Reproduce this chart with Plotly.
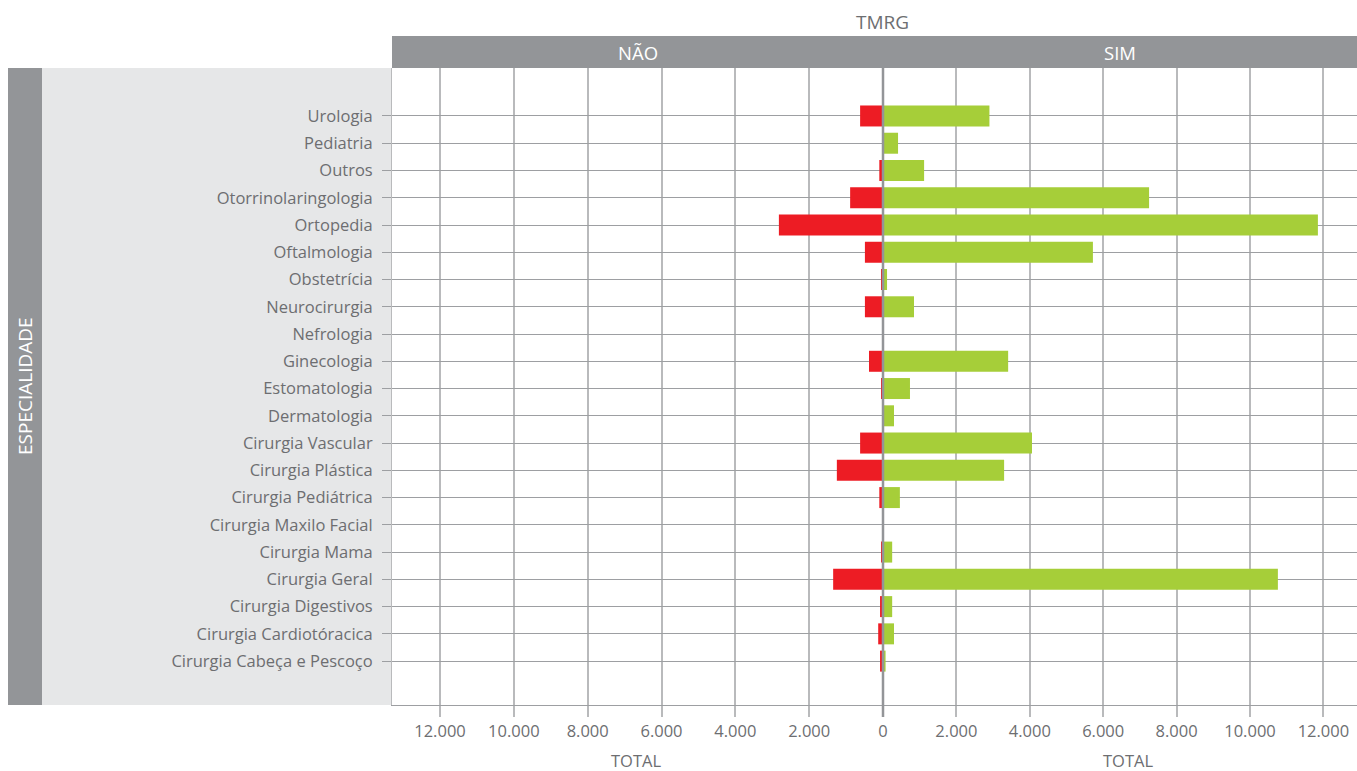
import plotly.graph_objects as go
from plotly.subplots import make_subplots

categories = [
    "Urologia", "Pediatria", "Outros", "Otorrinolaringologia", "Ortopedia",
    "Oftalmologia", "Obstetrícia", "Neurocirurgia", "Nefrologia", "Ginecologia",
    "Estomatologia", "Dermatologia", "Cirurgia Vascular", "Cirurgia Plástica",
    "Cirurgia Pediátrica", "Cirurgia Maxilo Facial", "Cirurgia Mama",
    "Cirurgia Geral", "Cirurgia Digestivos", "Cirurgia Cardiotóracica",
    "Cirurgia Cabeça e Pescoço",
]
nao_values = [620, 0, 100, 890, 2820, 490, 50, 490, 0, 380, 50, 0, 620, 1250,
              100, 0, 50, 1350, 80, 130, 80]
sim_values = [2900, 410, 1120, 7250, 11850, 5720, 110, 845, 0, 3410, 735, 300,
              4060, 3300, 460, 0, 250, 10760, 250, 300, 70]
x_ticks = [0, 2000, 4000, 6000, 8000, 10000, 12000]
x_tick_text = ["0", "2.000", "4.000", "6.000", "8.000", "10.000", "12.000"]

W, H = 1357, 771
L, T = 392, 68
plot_w = 1357 - 392
plot_h = 705 - 68
R = W - L - plot_w
B = H - T - plot_h
zero_px = 883
split = (zero_px - 392) / plot_w


def px_x(s):
    return (s - 392) / plot_w


def px_y(s):
    return (705 - s) / plot_h


RED = "#ED1C24"
GREEN = "#A6CE39"
GRID_V = "#b9babc"
GRID_H = "#9d9fa2"
TXT = "#6d6e71"
DARK = "#939598"
LIGHT = "#e6e7e8"
FONT = "Open Sans"

fig = make_subplots(rows=1, cols=2, shared_yaxes=True, horizontal_spacing=0)

fig.add_trace(go.Bar(y=categories, x=nao_values, orientation="h",
                     marker=dict(color=RED, line=dict(width=0)), width=0.77,
                     hoverinfo="skip", showlegend=False), row=1, col=1)
fig.add_trace(go.Bar(y=categories, x=sim_values, orientation="h",
                     marker=dict(color=GREEN, line=dict(width=0)), width=0.77,
                     hoverinfo="skip", showlegend=False), row=1, col=2)

axis_common = dict(
    tickmode="array", tickvals=x_ticks, automargin=False,
    showgrid=True, gridcolor=GRID_V, gridwidth=1.5,
    showline=True, linecolor=GRID_H, linewidth=1,
    ticks="outside", ticklen=11, tickcolor=GRID_V, tickwidth=1.5,
    tickfont=dict(family=FONT, size=16.5, color=TXT),
    zeroline=False, fixedrange=True,
)
fig.update_xaxes(range=[13300, 0], domain=[0, split], ticktext=x_tick_text,
                 row=1, col=1, **axis_common)
fig.update_xaxes(range=[0, (1357 - zero_px) / 36.7 * 1000], domain=[split, 1],
                 ticktext=[""] + x_tick_text[1:], row=1, col=2, **axis_common)

fig.update_yaxes(
    type="category", categoryorder="array", categoryarray=categories,
    range=[len(categories) - 1 + 1.61, -1.76], automargin=False,
    showgrid=True, gridcolor=GRID_H, gridwidth=1,
    showline=True, linecolor=GRID_V, linewidth=1,
    ticks="outside", ticklen=9, tickcolor=GRID_H, tickwidth=1,
    ticklabelstandoff=6,
    tickfont=dict(family=FONT, size=16.5, color=TXT),
    fixedrange=True,
)
fig.update_yaxes(ticks="", showline=False, row=1, col=2)

shapes = [
    dict(type="rect", xref="paper", yref="paper", x0=px_x(8), x1=px_x(42),
         y0=0, y1=1, fillcolor=DARK, line=dict(width=0), layer="below"),
    dict(type="rect", xref="paper", yref="paper", x0=px_x(42), x1=0,
         y0=0, y1=1, fillcolor=LIGHT, line=dict(width=0), layer="below"),
    dict(type="rect", xref="paper", yref="paper", x0=0, x1=1,
         y0=1, y1=px_y(36), fillcolor=DARK, line=dict(width=0), layer="below"),
    dict(type="line", xref="paper", yref="paper", x0=split, x1=split,
         y0=px_y(717), y1=1, line=dict(color=DARK, width=2.5), layer="above"),
]

annotations = [
    dict(text="TMRG", xref="paper", yref="paper", x=px_x(882), y=px_y(22),
         showarrow=False, font=dict(family=FONT, size=19, color=TXT),
         xanchor="center", yanchor="middle"),
    dict(text="NÃO", xref="paper", yref="paper", x=split / 2, y=px_y(53),
         showarrow=False, font=dict(family=FONT, size=18.5, color="white"),
         xanchor="center", yanchor="middle"),
    dict(text="SIM", xref="paper", yref="paper", x=(split + 1) / 2, y=px_y(53),
         showarrow=False, font=dict(family=FONT, size=18.5, color="white"),
         xanchor="center", yanchor="middle"),
    dict(text="TOTAL", xref="paper", yref="paper", x=px_x(636), y=px_y(760),
         showarrow=False, font=dict(family=FONT, size=16.5, color=TXT),
         xanchor="center", yanchor="middle"),
    dict(text="TOTAL", xref="paper", yref="paper", x=px_x(1128), y=px_y(760),
         showarrow=False, font=dict(family=FONT, size=16.5, color=TXT),
         xanchor="center", yanchor="middle"),
    dict(text="ESPECIALIDADE", xref="paper", yref="paper", x=px_x(25),
         y=px_y(386), textangle=-90, showarrow=False,
         font=dict(family=FONT, size=19, color="white"),
         xanchor="center", yanchor="middle"),
]

fig.update_layout(
    width=W, height=H,
    margin=dict(l=L, r=R, t=T, b=B, pad=0, autoexpand=False),
    paper_bgcolor="white", plot_bgcolor="white",
    shapes=shapes, annotations=annotations,
    separators=",.", bargap=0.23, showlegend=False,
    font=dict(family=FONT, color=TXT),
)

fig.write_html(
    "out.html",
    config={"displayModeBar": False},
    post_script="document.body.style.margin='0';document.body.style.overflow='hidden';",
)
